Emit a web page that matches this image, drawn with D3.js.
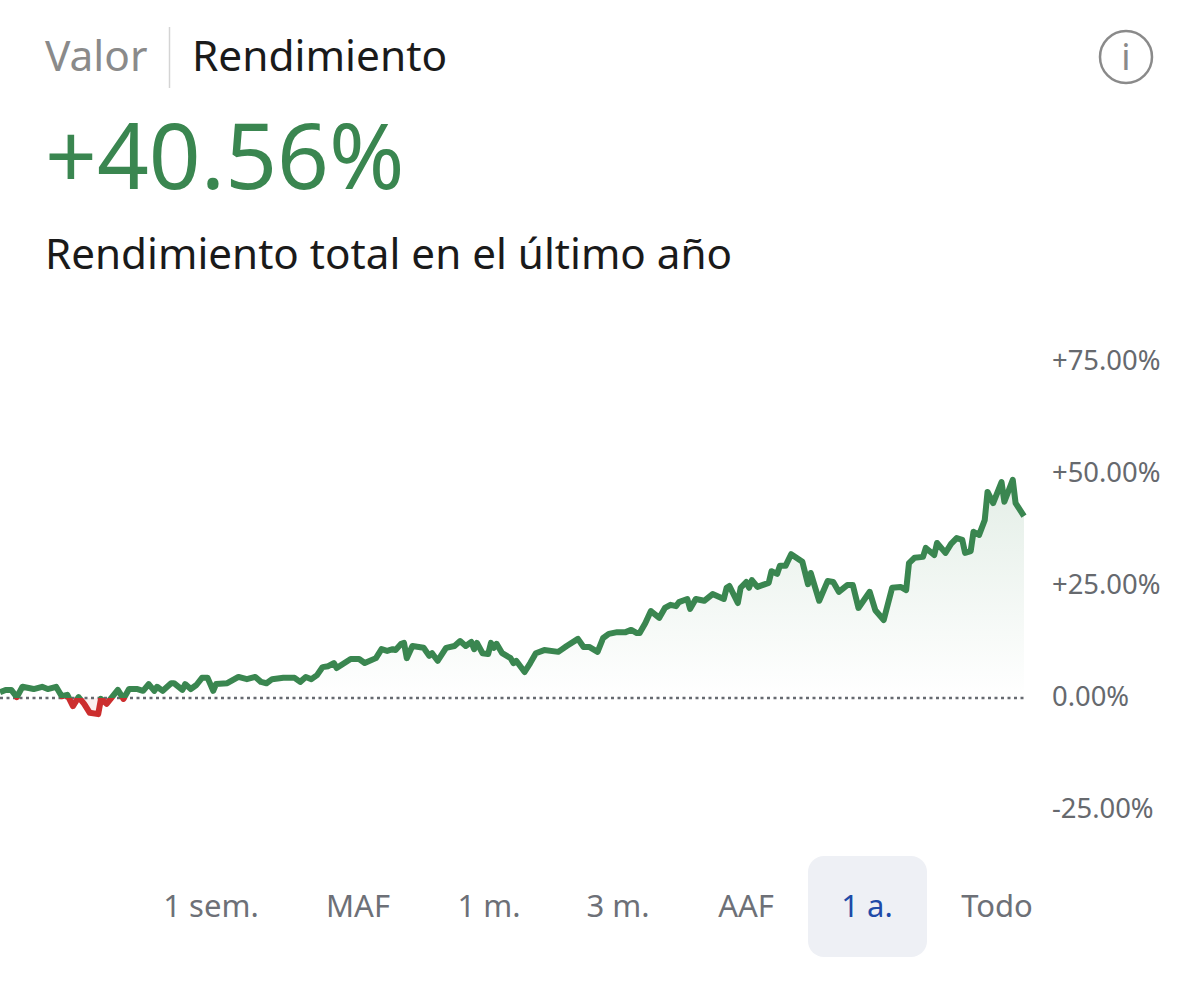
<!DOCTYPE html>
<html>
<head>
<meta charset="utf-8">
<script src="https://cdn.jsdelivr.net/npm/d3@7"></script>
<style>
  html, body { margin: 0; padding: 0; background: #fff; }
  svg { display: block; }
  text { font-family: "Noto Sans", sans-serif; }
</style>
</head>
<body>
<svg id="chart" width="1200" height="991"></svg>
<script>
var days = [0,2,4,6,8,12,15,17,20,22,24,26,28,30,32,35,36,38,42,44,46,49,51,53,55,56,58,61,62,65,66,68,70,72,74,76,77,81,85,88,91,93,95,97,101,105,107,109,111,113,115,117,119,120,125,128,130,134,136,138,140,141,143,144,145,147,151,153,154,156,159,162,164,166,168,169,170,172,174,175,176,177,179,182,183,184,187,189,191,194,199,202,206,208,210,213,215,217,220,223,225,227,228,230,232,235,237,239,241,242,245,246,248,251,254,258,259,260,263,264,266,267,268,270,274,275,277,278,280,282,286,288,289,292,295,297,299,302,304,306,310,312,315,318,321,323,324,326,329,330,333,334,337,339,341,343,344,346,347,349,351,352,354,357,358,361,362,365];
var returns = [1.3,1.8,1.8,0.2,2.5,2.0,2.5,2.0,2.5,0.4,0.7,-1.8,0.2,-1.3,-3.3,-3.6,-0.2,-1.3,1.8,-0.2,2.0,2.0,1.6,3.1,1.6,2.5,1.6,3.3,3.3,1.8,3.1,2.0,2.9,4.5,4.5,1.6,3.1,3.3,4.7,4.2,4.7,3.6,3.3,4.2,4.5,4.5,3.6,4.7,4.2,5.1,6.9,7.1,7.8,6.7,8.7,8.7,7.8,8.9,10.9,10.5,10.9,10.7,12.1,12.3,8.9,11.6,11.2,9.4,10.0,8.3,11.2,11.6,12.7,11.6,12.5,10.9,12.3,10.0,9.8,12.3,11.2,12.1,10.0,8.9,7.8,8.3,5.8,7.8,10.0,10.7,10.3,11.6,13.2,11.4,11.4,10.3,13.4,14.3,14.7,14.7,15.2,14.5,14.5,16.7,19.4,17.9,20.1,20.8,20.5,21.4,22.1,19.9,22.1,21.7,23.2,22.1,24.6,25.0,21.2,24.6,25.9,24.6,26.3,24.8,25.7,28.3,27.7,29.5,29.5,32.1,30.4,25.4,27.9,21.7,26.1,25.9,23.7,25.2,25.2,20.1,23.7,19.6,17.4,24.6,24.8,24.1,30.1,31.3,31.5,33.5,31.9,34.6,32.4,34.4,35.7,35.3,32.4,32.8,37.1,36.4,39.7,46.0,43.5,48.2,43.8,48.7,43.5,40.6];
var tickValues = [75, 50, 25, 0, -25];
var tickLabels = ["+75.00%", "+50.00%", "+25.00%", "0.00%", "-25.00%"];
var ranges = ["1 sem.", "MAF", "1 m.", "3 m.", "AAF", "1 a.", "Todo"];
var rangeCenters = [211, 358, 489, 618, 746, 867, 997];

var GREEN = "#3a8650", RED = "#cc2e2e";

var svg = d3.select("#chart");
var x = d3.scaleLinear().domain([0, 365]).range([0, 1024]);
var y = d3.scaleLinear().domain([-25, 75]).range([810, 362]);
var data = days.map(function(d, i) { return {day: d, ret: returns[i]}; });

// header
svg.append("text").attr("x", 45).attr("y", 71).attr("font-size", 42.4).attr("fill", "#8a8a8a").text("Valor");
svg.append("line").attr("x1", 169.5).attr("x2", 169.5).attr("y1", 27).attr("y2", 88).attr("stroke", "#d4d4d4").attr("stroke-width", 1.5);
svg.append("text").attr("x", 192).attr("y", 71).attr("font-size", 42.4).attr("fill", "#1a1a1a").text("Rendimiento");
svg.append("text").attr("x", 45).attr("y", 189).attr("font-size", 90.8).attr("fill", GREEN).text("+40.56%");
svg.append("text").attr("x", 45).attr("y", 269).attr("font-size", 42.2).attr("fill", "#1a1a1a").text("Rendimiento total en el último año");

// info icon
svg.append("circle").attr("cx", 1126).attr("cy", 57).attr("r", 26).attr("fill", "none").attr("stroke", "#8a8a8a").attr("stroke-width", 2.5);
svg.append("text").attr("x", 1126).attr("y", 70).attr("text-anchor", "middle").attr("font-size", 36).attr("fill", "#8a8a8a").text("i");

// gradient + clips
var defs = svg.append("defs");
var grad = defs.append("linearGradient").attr("id", "areaGrad").attr("gradientUnits", "userSpaceOnUse")
  .attr("x1", 0).attr("x2", 0).attr("y1", y(50)).attr("y2", y(0));
grad.append("stop").attr("offset", "0%").attr("stop-color", GREEN).attr("stop-opacity", 0.14);
grad.append("stop").attr("offset", "100%").attr("stop-color", GREEN).attr("stop-opacity", 0);
defs.append("clipPath").attr("id", "above").append("rect").attr("x", 0).attr("y", 0).attr("width", 1200).attr("height", y(0));
defs.append("clipPath").attr("id", "below").append("rect").attr("x", 0).attr("y", y(0)).attr("width", 1200).attr("height", 300);

var area = d3.area().x(function(d) { return x(d.day); }).y0(y(0)).y1(function(d) { return y(d.ret); });
var line = d3.line().x(function(d) { return x(d.day); }).y(function(d) { return y(d.ret); });

svg.append("path").datum(data).attr("d", area).attr("fill", "url(#areaGrad)").attr("clip-path", "url(#above)");
svg.append("path").datum(data).attr("d", area).attr("fill", RED).attr("fill-opacity", 0.08).attr("clip-path", "url(#below)");

// zero line
svg.append("line").attr("x1", 0).attr("x2", 1026).attr("y1", y(0)).attr("y2", y(0))
  .attr("stroke", "#666a70").attr("stroke-width", 2.5).attr("stroke-dasharray", "3 3.5");

svg.append("path").datum(data).attr("d", line).attr("fill", "none").attr("stroke", GREEN).attr("stroke-width", 6)
  .attr("stroke-linejoin", "round").attr("clip-path", "url(#above)");
svg.append("path").datum(data).attr("d", line).attr("fill", "none").attr("stroke", RED).attr("stroke-width", 6)
  .attr("stroke-linejoin", "round").attr("clip-path", "url(#below)");

// y axis
var axis = d3.axisRight(y).tickValues(tickValues).tickSize(0).tickPadding(0)
  .tickFormat(function(d, i) { return tickLabels[i]; });
var gAxis = svg.append("g").attr("transform", "translate(1052,-1)").call(axis);
gAxis.select(".domain").remove();
gAxis.selectAll("text").attr("font-size", 27.4).attr("fill", "#66696e").style("font-family", '"Noto Sans", sans-serif');

// range buttons
svg.append("rect").attr("x", 808).attr("y", 856).attr("width", 119).attr("height", 101).attr("rx", 16).attr("fill", "#eef0f5");
svg.selectAll(".range").data(ranges).enter().append("text").attr("class", "range")
  .attr("x", function(d, i) { return rangeCenters[i]; }).attr("y", 917)
  .attr("text-anchor", "middle").attr("font-size", 31)
  .attr("fill", function(d) { return d === "1 a." ? "#1f4aa8" : "#6d7077"; })
  .text(function(d) { return d; });
</script>
</body>
</html>
